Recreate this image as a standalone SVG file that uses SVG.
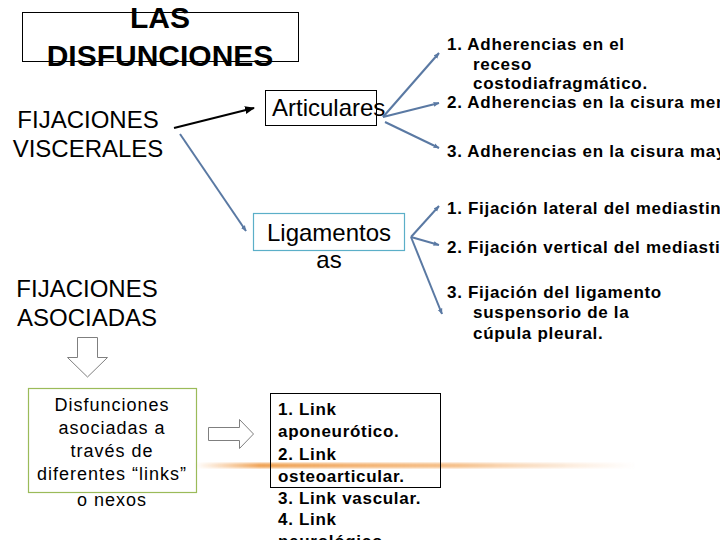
<svg xmlns="http://www.w3.org/2000/svg" width="720" height="540" viewBox="0 0 720 540">
<defs>
<marker id="ab" viewBox="0 0 10 10" refX="9" refY="5" markerWidth="5" markerHeight="5" orient="auto" markerUnits="strokeWidth"><path d="M0,1 L10,5 L0,9 z" fill="#000"/></marker>
<marker id="ag" viewBox="0 0 10 10" refX="9" refY="5" markerWidth="3" markerHeight="3" orient="auto" markerUnits="strokeWidth"><path d="M0,1 L10,5 L0,9 z" fill="#5A79A3"/></marker>
<linearGradient id="og" x1="0" x2="1" y1="0" y2="0">
<stop offset="0" stop-color="#F0A050" stop-opacity="0"/>
<stop offset="0.15" stop-color="#EE9A45" stop-opacity="0.9"/>
<stop offset="0.6" stop-color="#F2A85E" stop-opacity="0.7"/>
<stop offset="1" stop-color="#F5C090" stop-opacity="0"/>
</linearGradient>
<filter id="bl"><feGaussianBlur stdDeviation="0.8"/></filter>
</defs>
<style>
.t{font-family:"Liberation Sans",Arial,sans-serif;fill:#000}
.big{font-size:24px}
.b{font-size:17px;font-weight:bold;letter-spacing:0.7px}
.s{font-size:18px;letter-spacing:1px}
.c{stroke:#5A79A3;stroke-width:2;fill:none;marker-end:url(#ag)}
</style>
<rect width="720" height="540" fill="#fff"/>
<rect x="195" y="463" width="440" height="5" fill="url(#og)" filter="url(#bl)"/>

<g id="title">
<rect x="22.5" y="12.5" width="276" height="49" fill="none" stroke="#000" stroke-width="1"/>
<text class="t" x="160" y="28" font-size="30" font-weight="bold" text-anchor="middle">LAS</text>
<text class="t" x="160" y="66" font-size="30" font-weight="bold" text-anchor="middle">DISFUNCIONES</text>
</g>

<g id="fij-visc">
<text class="t big" x="88" y="128" text-anchor="middle">FIJACIONES</text>
<text class="t big" x="88" y="157" text-anchor="middle">VISCERALES</text>
</g>

<g id="articulares">
<rect x="265.5" y="90.5" width="111" height="35" fill="none" stroke="#000" stroke-width="1"/>
<text class="t big" x="272" y="116">Articulares</text>
</g>

<g id="ligamentos">
<rect x="253.5" y="213.5" width="151" height="37" fill="none" stroke="#5BAFC8" stroke-width="1.2"/>
<text class="t big" x="329" y="241" text-anchor="middle">Ligamentos</text>
<text class="t big" x="329" y="268" text-anchor="middle">as</text>
</g>

<g id="adherencias">
<text class="t b" x="447" y="50">1. Adherencias en el</text>
<text class="t b" x="473" y="70">receso</text>
<text class="t b" x="473" y="89">costodiafragmático.</text>
<text class="t b" x="447" y="108">2. Adherencias en la cisura men</text>
<text class="t b" x="447" y="157">3. Adherencias en la cisura may</text>
</g>

<g id="fijacion">
<text class="t b" x="447" y="214">1. Fijación lateral del mediastin</text>
<text class="t b" x="447" y="253">2. Fijación vertical del mediastin</text>
<text class="t b" x="447" y="298">3. Fijación del ligamento</text>
<text class="t b" x="473" y="318">suspensorio de la</text>
<text class="t b" x="473" y="339">cúpula pleural.</text>
</g>

<g id="fij-asoc">
<text class="t big" x="87" y="297" text-anchor="middle">FIJACIONES</text>
<text class="t big" x="87" y="326" text-anchor="middle">ASOCIADAS</text>
</g>

<g id="down-arrow">
<path d="M77.5,337.5 H97.5 V357.5 H107.5 L87.5,377 L67.5,357.5 H77.5 Z" fill="#fff" stroke="#7F7F7F" stroke-width="1"/>
</g>

<g id="disfunciones-asoc">
<rect x="28.5" y="388.5" width="168" height="104" fill="none" stroke="#9BBB59" stroke-width="1.2"/>
<text class="t s" x="112" y="411" text-anchor="middle">Disfunciones</text>
<text class="t s" x="112" y="434" text-anchor="middle">asociadas a</text>
<text class="t s" x="112" y="457" text-anchor="middle">través de</text>
<text class="t s" x="112" y="480" text-anchor="middle">diferentes “links”</text>
<text class="t s" x="112" y="506" text-anchor="middle">o nexos</text>
</g>

<g id="right-arrow">
<path d="M208.5,427.5 H239.5 V419.5 L253.5,434 L239.5,448.5 V440.5 H208.5 Z" fill="#fff" stroke="#7F7F7F" stroke-width="1"/>
</g>

<g id="links">
<rect x="270.5" y="393.5" width="170" height="94" fill="none" stroke="#000" stroke-width="1"/>
<text class="t b" x="278" y="415">1. Link</text>
<text class="t b" x="278" y="437">aponeurótico.</text>
<text class="t b" x="278" y="460">2. Link</text>
<text class="t b" x="278" y="482">osteoarticular.</text>
<text class="t b" x="278" y="504">3. Link vascular.</text>
<text class="t b" x="278" y="525">4. Link</text>
<text class="t b" x="278" y="547">neurológico.</text>
</g>

<g id="connectors">
<line x1="174" y1="128" x2="254" y2="108" stroke="#000" stroke-width="2" marker-end="url(#ab)"/>
<line class="c" x1="180" y1="134" x2="246" y2="231"/>
<line class="c" x1="383" y1="117" x2="439" y2="53"/>
<line class="c" x1="383" y1="117" x2="439" y2="103"/>
<line class="c" x1="385" y1="122" x2="439" y2="148"/>
<line class="c" x1="411" y1="237" x2="439" y2="206"/>
<line class="c" x1="411" y1="237" x2="439" y2="245"/>
<line class="c" x1="411" y1="237" x2="442" y2="314"/>
</g>
</svg>
